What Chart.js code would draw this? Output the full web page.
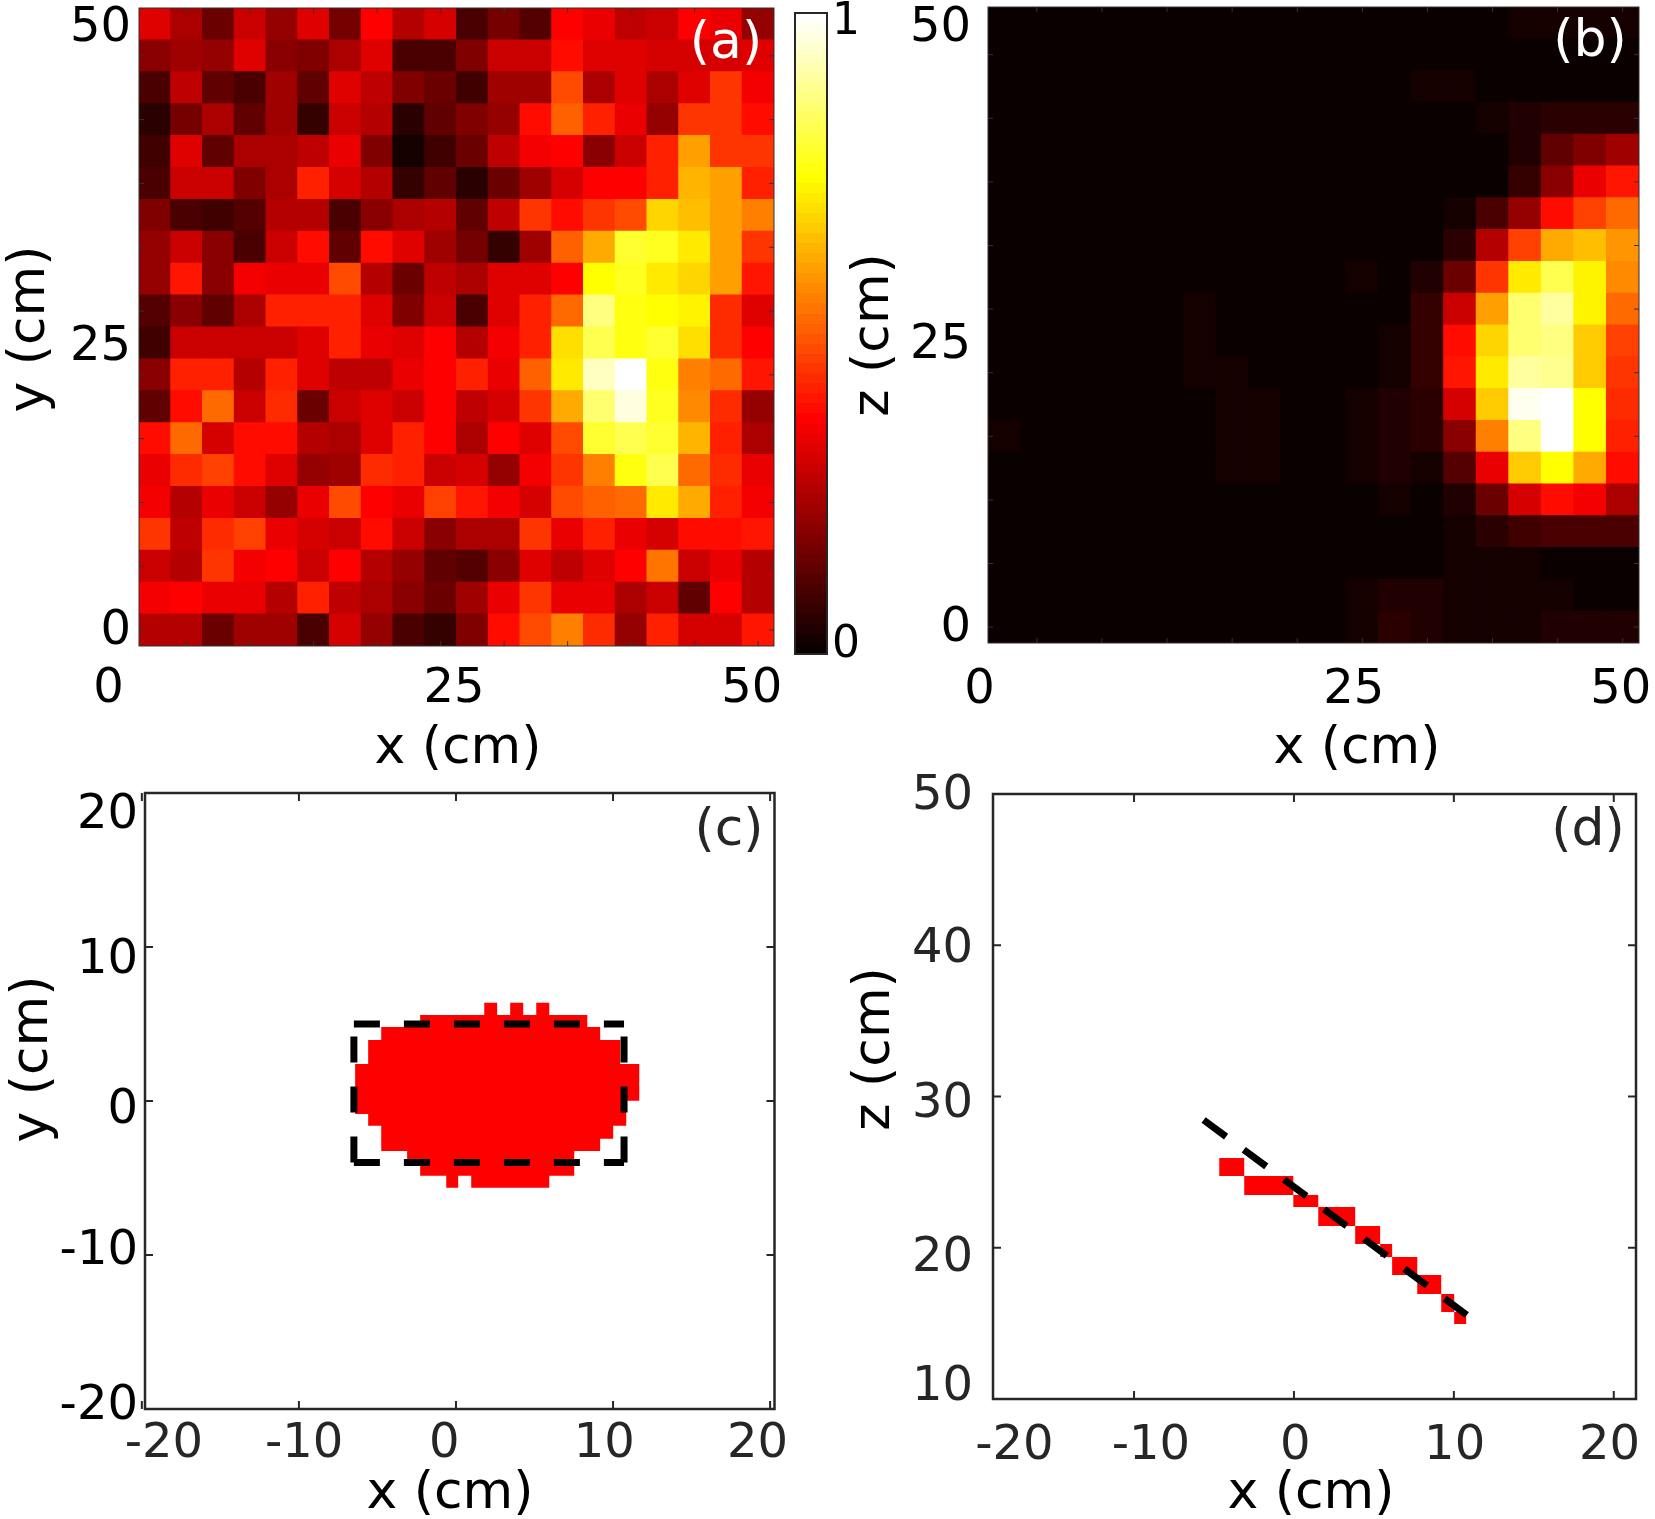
<!DOCTYPE html>
<html>
<head>
<meta charset="utf-8">
<title>Reflected intensity maps</title>
<script src="https://cdn.jsdelivr.net/npm/chart.js@4/dist/chart.umd.js"></script>
<style>
html, body { margin: 0; background: #fff; }
#page { position: relative; width: 1655px; height: 1519px; overflow: hidden; }
#page canvas { position: absolute; left: 0; top: 0; }
</style>
</head>
<body>
<div id="page">
	<canvas id="panelA" width="1655" height="1519"></canvas>
	<canvas id="colorBar" width="1655" height="1519"></canvas>
	<canvas id="panelB" width="1655" height="1519"></canvas>
	<canvas id="panelC" width="1655" height="1519"></canvas>
	<canvas id="panelD" width="1655" height="1519"></canvas>
</div>
<script>
//cell values, rows listed from y = 50 down to y = 0
var heatA = [
	[.31,.24,.14,.29,.21,.31,.16,.36,.26,.30,.09,.16,.11,.37,.33,.27,.28,.36,.33,.21],
	[.19,.22,.21,.31,.19,.18,.24,.31,.09,.09,.17,.29,.29,.38,.31,.32,.30,.30,.30,.31],
	[.10,.27,.12,.09,.22,.12,.32,.27,.18,.15,.08,.22,.22,.48,.24,.31,.24,.31,.45,.35],
	[.05,.16,.24,.13,.22,.07,.28,.26,.04,.13,.18,.20,.38,.50,.42,.33,.20,.44,.44,.38],
	[.08,.32,.13,.24,.24,.27,.33,.17,.01,.08,.14,.27,.35,.36,.19,.29,.42,.60,.45,.45],
	[.10,.28,.28,.18,.24,.42,.30,.25,.06,.13,.04,.15,.22,.30,.37,.37,.42,.63,.60,.42],
	[.17,.10,.08,.11,.25,.25,.10,.19,.24,.25,.13,.27,.45,.38,.44,.48,.68,.65,.60,.55],
	[.21,.29,.19,.10,.28,.38,.13,.38,.31,.22,.16,.07,.23,.50,.62,.80,.78,.72,.60,.45],
	[.21,.40,.19,.35,.33,.33,.48,.25,.15,.27,.24,.32,.32,.37,.75,.78,.71,.69,.60,.39],
	[.11,.19,.13,.24,.42,.42,.42,.31,.18,.28,.09,.31,.42,.52,.87,.76,.75,.73,.43,.32],
	[.08,.28,.29,.29,.28,.31,.41,.33,.31,.36,.26,.35,.42,.70,.82,.76,.80,.70,.43,.37],
	[.19,.41,.41,.26,.42,.31,.27,.27,.33,.36,.41,.33,.51,.71,.94,1.0,.76,.56,.53,.40],
	[.13,.38,.52,.29,.43,.14,.29,.31,.28,.36,.27,.30,.45,.62,.85,.97,.78,.57,.43,.20],
	[.38,.53,.30,.38,.38,.26,.24,.31,.41,.36,.24,.37,.31,.48,.80,.82,.79,.63,.42,.24],
	[.33,.43,.46,.38,.31,.20,.22,.43,.41,.29,.30,.21,.35,.45,.55,.76,.83,.53,.43,.33],
	[.35,.25,.33,.28,.20,.33,.47,.36,.34,.46,.39,.35,.30,.47,.50,.53,.72,.62,.42,.35],
	[.45,.27,.43,.46,.34,.30,.29,.38,.29,.19,.24,.24,.45,.33,.41,.34,.30,.38,.38,.40],
	[.29,.26,.44,.35,.37,.28,.37,.25,.20,.13,.11,.19,.32,.27,.31,.37,.54,.29,.33,.25],
	[.35,.36,.33,.33,.25,.42,.27,.24,.19,.15,.22,.33,.44,.33,.33,.24,.28,.13,.37,.26],
	[.26,.26,.14,.23,.23,.09,.30,.21,.10,.07,.17,.38,.47,.55,.43,.21,.42,.30,.30,.39]
];
var heatB = [
	[0,0,0,0,0,0,0,0,0,0,0,0,0,0,0,0,.015,.02,.02,.015],
	[0,0,0,0,0,0,0,0,0,0,0,0,0,0,0,0,0,0,0,0],
	[0,0,0,0,0,0,0,0,0,0,0,0,0,.015,.015,0,0,0,0,0],
	[0,0,0,0,0,0,0,0,0,0,0,0,0,0,0,.02,.03,.05,.05,.05],
	[0,0,0,0,0,0,0,0,0,0,0,0,0,0,0,0,.03,.12,.17,.22],
	[0,0,0,0,0,0,0,0,0,0,0,0,0,0,0,0,.07,.19,.33,.39],
	[0,0,0,0,0,0,0,0,0,0,0,0,0,0,.02,.09,.21,.38,.46,.52],
	[0,0,0,0,0,0,0,0,0,0,0,0,0,0,.05,.25,.46,.62,.65,.58],
	[0,0,0,0,0,0,0,0,0,0,0,.015,0,.03,.14,.45,.72,.82,.73,.57],
	[0,0,0,0,0,0,.015,0,0,0,0,0,0,.06,.29,.61,.85,.90,.73,.52],
	[0,0,0,0,0,0,.015,0,0,0,0,0,.02,.07,.38,.68,.86,.87,.66,.46],
	[0,0,0,0,0,0,.015,.015,0,0,0,0,.02,.07,.40,.72,.91,.89,.67,.44],
	[0,0,0,0,0,0,0,.015,.015,0,0,.015,.025,.05,.30,.67,.98,1.0,.74,.43],
	[.01,0,0,0,0,0,0,.015,.015,0,0,.015,.03,.04,.19,.55,.87,1.0,.74,.41],
	[0,0,0,0,0,0,0,.015,.015,0,0,.015,.025,.015,.11,.34,.66,.75,.62,.38],
	[0,0,0,0,0,0,0,0,0,0,0,0,.015,0,.03,.14,.30,.38,.35,.24],
	[0,0,0,0,0,0,0,0,0,0,0,0,0,0,.015,.05,.08,.10,.10,.09],
	[0,0,0,0,0,0,0,0,0,0,0,0,0,0,.01,.01,.01,0,0,0],
	[0,0,0,0,0,0,0,0,0,0,0,.015,.025,.025,.015,.015,.015,.015,0,0],
	[0,0,0,0,0,0,0,0,0,0,0,.02,.04,.035,.02,.015,.015,.025,.025,.025]
];
var cellSize = 2.5;
var cellCentres = [1.25,3.75,6.25,8.75,11.25,13.75,16.25,18.75,21.25,23.75,26.25,28.75,31.25,33.75,36.25,38.75,41.25,43.75,46.25,48.75];

//tick marks of the two maps
var heatTickX = [3.75,8.75,13.75,18.75,23.75,28.75,33.75,38.75,43.75,48.75];
var heatTickY = [46.25,41.25,36.25,31.25,26.25,21.25,16.25,11.25,6.25,1.25];

//tick labels and where each one sits along its axis
var labelsAX = ['0','25','50'];
var labelPosAX = [-2.4,24.8,48.25];
var labelsAY = ['50','25','0'];
var labelPosAY = [48.37,23.43,1.15];
var labelsBX = ['0','25','50'];
var labelPosBX = [-0.65,28.1,48.6];
var labelsBY = ['50','25','0'];
var labelPosBY = [48.27,23.42,1.15];
var labelsBar = ['1','0'];
var labelPosBar = [.985,.013];
var labelsCX = ['-20','-10','0','10','20'];
var labelPosCX = [-18.6,-9.67,-0.75,9.44,19.2];
var labelsCY = ['20','10','0','-10','-20'];
var labelPosCY = [18.55,9.14,-0.65,-9.75,-19.83];
var labelsDX = ['-20','-10','0','10','20'];
var labelPosDX = [-17.48,-8.95,0.08,10.05,19.74];
var labelsDY = ['50','40','30','20','10'];
var labelPosDY = [49.86,39.69,29.49,19.29,10.76];

//panel c, footprint rows (cm)
var maskTop =    [5.58,4.81,3.96,2.40,0.02,-0.84,-1.60,-2.45,-3.25,-4.05];
var maskBottom = [4.81,3.96,2.40,0.02,-0.84,-1.60,-2.45,-3.25,-4.05,-4.85];
var maskLeft =   [-2.28,-4.76,-5.59,-6.42,-6.42,-5.59,-4.76,-4.76,-3.11,-2.28];
var maskRight =  [8.36,9.18,10.46,11.67,10.84,10.84,10.01,9.18,7.53,7.53];
//single pixels sticking out above and below the footprint
var bumpX0 = [1.80,3.45,5.11,-0.62,0.97];
var bumpX1 = [2.62,4.28,5.94,0.14,5.94];
var bumpY0 = [5.50,5.50,5.50,-5.63,-5.63];
var bumpY1 = [6.38,6.38,6.38,-4.80,-4.80];
//dashed outline of the plate
var plateLeft = -6.5, plateRight = 10.7, plateTop = 5, plateBottom = -4;

//panel d, side view of the footprint (cm)
var sideX0 = [-4.67,-3.11,-0.04,1.52,3.83,5.39,6.14,7.71,9.21,10.02];
var sideX1 = [-3.11,-0.04,1.52,3.83,5.39,6.14,7.71,9.21,10.02,10.77];
var sideY0 = [24.74,23.49,22.69,21.44,20.25,19.39,18.20,16.94,15.75,14.96];
var sideY1 = [25.93,24.74,23.49,22.69,21.44,20.25,19.39,18.20,16.94,15.75];
var plateLineX = [-5.65,10.81];
var plateLineY = [28.45,15.55];

var inkDark = '#262626';
var tickFont = {family: '"DejaVu Sans"', size: 48};
Chart.defaults.font.family = '"DejaVu Sans"';

//matlab hot, 64 levels
function hot(v) {
	var i = Math.round(v * 63);
	var r = Math.min(1, (i + 1) / 24);
	var g = Math.max(0, Math.min(1, (i - 23) / 24));
	var b = Math.max(0, Math.min(1, (i - 47) / 16));
	return 'rgb(' + Math.round(r * 255) + ',' + Math.round(g * 255) + ',' + Math.round(b * 255) + ')';
}

//axis box with inward ticks, plus the free text of a panel
function decorate(cfg) {
	return {
		id: 'decorate',
		afterDraw: function(chart) {
			var c = chart.ctx, a = chart.chartArea;
			var sx = chart.scales.x, sy = chart.scales.y;
			c.save();
			c.strokeStyle = cfg.ink;
			c.lineWidth = cfg.tickWidth;
			(cfg.ticksX || []).forEach(function(v) {
				var px = sx.getPixelForValue(v);
				c.beginPath();
				c.moveTo(px, a.bottom); c.lineTo(px, a.bottom - cfg.tickLength);
				c.moveTo(px, a.top); c.lineTo(px, a.top + cfg.tickLength);
				c.stroke();
			});
			(cfg.ticksY || []).forEach(function(v) {
				var py = sy.getPixelForValue(v);
				c.beginPath();
				c.moveTo(a.left, py); c.lineTo(a.left + cfg.tickLength, py);
				c.moveTo(a.right, py); c.lineTo(a.right - cfg.tickLength, py);
				c.stroke();
			});
			c.lineWidth = cfg.frameWidth;
			c.strokeRect(a.left, a.top, a.right - a.left, a.bottom - a.top);
			c.textAlign = 'center';
			c.textBaseline = 'middle';
			(cfg.texts || []).forEach(function(t) {
				c.save();
				c.translate(t.x, t.y);
				if (t.rot) c.rotate(t.rot);
				c.font = t.size + 'px "DejaVu Sans"';
				c.fillStyle = t.color;
				c.fillText(t.text, 0, 0);
				c.restore();
			});
			c.restore();
		}
	};
}

//an axis owns the strip between its plot edge and the canvas edge, labels are clipped to it
function axis(min, max, positions, labels, padding, ink, stacked, thickness, horizontal) {
	return {
		type: 'linear',
		min: min,
		max: max,
		offset: false,
		stacked: stacked,
		grid: {display: false},
		border: {display: false},
		afterBuildTicks: function(scale) {
			scale.ticks = positions.map(function(v) { return {value: v}; });
		},
		afterFit: function(scale) {
			if (horizontal) scale.height = thickness; else scale.width = thickness;
			//labels may overhang the plot, that must not move the plot edges
			scale.paddingLeft = scale.paddingRight = scale.paddingTop = scale.paddingBottom = 0;
		},
		ticks: {
			autoSkip: false,
			maxRotation: 0,
			minRotation: 0,
			padding: padding,
			color: ink,
			font: tickFont,
			callback: function(v, i) { return labels[i]; }
		}
	};
}

function panelOptions(box, xMin, xMax, yMin, yMax, xPos, xLabels, xPad, xInk, yPos, yLabels, yPad, yInk, stacked) {
	return {
		responsive: false,
		animation: false,
		layout: {autoPadding: false, padding: {left: 0, bottom: 0, top: box.top, right: 1655 - box.right}},
		plugins: {legend: {display: false}, tooltip: {enabled: false}},
		scales: {
			x: axis(xMin, xMax, xPos, xLabels, xPad, xInk, stacked, 1519 - box.bottom, true),
			y: axis(yMin, yMax, yPos, yLabels, yPad, yInk, stacked, box.left, false)
		}
	};
}

//one stacked dataset per row of cells, bottom row first
function heatDatasets(rows) {
	return rows.slice().reverse().map(function(row) {
		return {
			data: cellCentres.map(function(x) { return {x: x, y: cellSize}; }),
			backgroundColor: row.map(hot),
			barPercentage: 1,
			categoryPercentage: 1,
			inflateAmount: .5
		};
	});
}

function title(text, x, y, rot) {
	return {text: text, x: x, y: y, rot: rot, size: 52, color: '#000'};
}
function tag(text, x, y, color) {
	return {text: text, x: x, y: y, size: 52, color: color};
}
var UP = -Math.PI / 2;

//first map
new Chart(document.getElementById('panelA'), {
	type: 'bar',
	data: {datasets: heatDatasets(heatA)},
	options: panelOptions({left: 139, top: 8, right: 774, bottom: 646}, 0, 50, 0, 50,
		labelPosAX, labelsAX, 6.5, '#000', labelPosAY, labelsAY, 0, '#000', true),
	plugins: [decorate({
		ink: '#333', tickWidth: 1, frameWidth: 1, tickLength: 5,
		ticksX: heatTickX, ticksY: heatTickY,
		texts: [title('x (cm)', 458, 749), title('y (cm)', 30, 329, UP), tag('(a)', 726, 44, '#fff')]
	})]
});

//colour bar, 64 stacked levels
var barLevels = [];
for (var i = 0; i < 64; i++) barLevels.push(i);
var barBox = {left: 795, top: 13, right: 827, bottom: 654};
var barY = axis(0, 1, labelPosBar, labelsBar, -3, '#000', true, 1655 - barBox.right, false);
barY.position = 'right';
barY.ticks.font = {family: '"DejaVu Sans"', size: 44};
new Chart(document.getElementById('colorBar'), {
	type: 'bar',
	data: {
		labels: [''],
		datasets: barLevels.map(function(level) {
			return {
				data: [1 / 64],
				backgroundColor: hot(level / 63),
				barPercentage: 1,
				categoryPercentage: 1
			};
		})
	},
	options: {
		responsive: false,
		animation: false,
		layout: {autoPadding: false, padding: {left: barBox.left, top: barBox.top, bottom: 1519 - barBox.bottom, right: 0}},
		plugins: {legend: {display: false}, tooltip: {enabled: false}},
		scales: {x: {type: 'category', stacked: true, display: false}, y: barY}
	},
	plugins: [decorate({ink: inkDark, tickWidth: 1, frameWidth: 2, tickLength: 5})]
});

//second map
new Chart(document.getElementById('panelB'), {
	type: 'bar',
	data: {datasets: heatDatasets(heatB)},
	options: panelOptions({left: 988, top: 7, right: 1639, bottom: 643}, 0, 50, 0, 50,
		labelPosBX, labelsBX, 11, '#000', labelPosBY, labelsBY, 9, '#000', true),
	plugins: [decorate({
		ink: '#333', tickWidth: 1, frameWidth: 1, tickLength: 5,
		ticksX: heatTickX, ticksY: heatTickY,
		texts: [title('x (cm)', 1357, 749), title('z (cm)', 874, 335, UP), tag('(b)', 1590, 42, '#fff')]
	})]
});

//closed red shape through the given corners
function shape(xs, ys) {
	return {
		data: xs.map(function(x, i) { return {x: x, y: ys[i]}; }),
		showLine: true,
		fill: 'shape',
		backgroundColor: '#ff0000',
		borderWidth: 0,
		pointRadius: 0,
		tension: 0
	};
}
function rectShape(x0, x1, y0, y1) {
	return shape([x0, x1, x1, x0], [y1, y1, y0, y0]);
}
function dashed(xs, ys, dash) {
	return {
		data: xs.map(function(x, i) { return {x: x, y: ys[i]}; }),
		showLine: true,
		fill: false,
		borderColor: '#000',
		borderWidth: 7,
		borderDash: dash,
		borderCapStyle: 'butt',
		pointRadius: 0,
		tension: 0
	};
}

//footprint outline: down the left edge of the rows, back up the right edge
var outlineX = [], outlineY = [];
maskTop.forEach(function(t, i) {
	outlineX.push(maskLeft[i], maskLeft[i]);
	outlineY.push(t, maskBottom[i]);
});
for (var r = maskTop.length - 1; r >= 0; r--) {
	outlineX.push(maskRight[r], maskRight[r]);
	outlineY.push(maskBottom[r], maskTop[r]);
}

//footprint seen from above
var plateDash = [26, 24];
var datasetsC = [
	dashed([plateLeft, plateRight], [plateTop, plateTop], plateDash),
	dashed([plateLeft, plateRight], [plateBottom, plateBottom], plateDash),
	dashed([plateLeft, plateLeft], [plateBottom, plateTop], plateDash),
	dashed([plateRight, plateRight], [plateBottom, plateTop], plateDash),
	shape(outlineX, outlineY)
];
bumpX0.forEach(function(x0, i) {
	datasetsC.push(rectShape(x0, bumpX1[i], bumpY0[i], bumpY1[i]));
});
new Chart(document.getElementById('panelC'), {
	type: 'scatter',
	data: {datasets: datasetsC},
	options: panelOptions({left: 145, top: 793, right: 774.5, bottom: 1409}, -19.8, 20.28, -20, 20,
		labelPosCX, labelsCX, -1.5, inkDark, labelPosCY, labelsCY, -1, '#000', false),
	plugins: [decorate({
		ink: inkDark, tickWidth: 2, frameWidth: 2.5, tickLength: 8,
		ticksX: [-20, -10, 0, 10, 20], ticksY: [20, 10, 0, -10, -20],
		texts: [title('x (cm)', 450, 1494), title('y (cm)', 33, 1059, UP), tag('(c)', 729, 831, inkDark)]
	})]
});

//footprint seen from the side
var datasetsD = [dashed(plateLineX, plateLineY, [28, 22])];
sideX0.forEach(function(x0, i) {
	datasetsD.push(rectShape(x0, sideX1[i], sideY0[i], sideY1[i]));
});
new Chart(document.getElementById('panelD'), {
	type: 'scatter',
	data: {datasets: datasetsD},
	options: panelOptions({left: 993, top: 794, right: 1636, bottom: 1399}, -18.82, 21.39, 10, 50,
		labelPosDX, labelsDX, 10.5, inkDark, labelPosDY, labelsDY, 12, inkDark, false),
	plugins: [decorate({
		ink: inkDark, tickWidth: 2, frameWidth: 2.5, tickLength: 8,
		ticksX: [-10, 0, 10, 20], ticksY: [50, 40, 30, 20, 10],
		texts: [title('x (cm)', 1311, 1494), title('z (cm)', 875, 1049, UP), tag('(d)', 1588, 831, inkDark)]
	})]
});
</script>
</body>
</html>
